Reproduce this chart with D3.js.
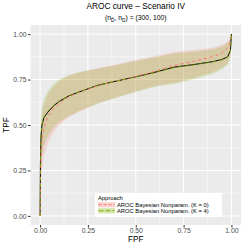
<!DOCTYPE html>
<html>
<head>
<meta charset="utf-8">
<script src="https://cdn.jsdelivr.net/npm/d3@7.9.0/dist/d3.min.js"></script>
<style>
  html, body { margin: 0; padding: 0; background: #fff; }
  svg { display: block; font-family: "Liberation Sans", Arial, sans-serif; }
</style>
</head>
<body>
<div id="chart"></div>
<script>
// FPF grid shared by all curves
const fpf = [0, 0.002, 0.005, 0.01, 0.02, 0.04, 0.07, 0.1, 0.15, 0.2, 0.3, 0.4, 0.5, 0.6, 0.7, 0.8, 0.9, 0.95, 0.98, 0.995, 1];

// true AROC curve (solid black)
const trueTpf = [0, 0.30, 0.44, 0.50, 0.54, 0.57, 0.605, 0.63, 0.66, 0.68, 0.718, 0.742, 0.765, 0.79, 0.818, 0.832, 0.848, 0.86, 0.875, 0.91, 1];

// K = 0 estimate and band
const k0Est = [0, 0.20, 0.33, 0.42, 0.49, 0.545, 0.59, 0.62, 0.655, 0.678, 0.716, 0.742, 0.767, 0.795, 0.827, 0.85, 0.875, 0.895, 0.925, 0.955, 1];
const k0Low = [0, 0.08, 0.18, 0.26, 0.33, 0.40, 0.46, 0.50, 0.542, 0.57, 0.618, 0.652, 0.686, 0.715, 0.733, 0.758, 0.79, 0.815, 0.84, 0.88, 1];
const k0Upp = [0, 0.38, 0.48, 0.55, 0.61, 0.665, 0.71, 0.742, 0.77, 0.787, 0.812, 0.834, 0.858, 0.88, 0.902, 0.912, 0.925, 0.94, 0.96, 0.98, 1];

// K = 4 estimate and band
const k4Est = [0, 0.31, 0.45, 0.505, 0.545, 0.575, 0.607, 0.632, 0.661, 0.681, 0.718, 0.742, 0.765, 0.789, 0.816, 0.83, 0.846, 0.858, 0.872, 0.905, 1];
const k4Low = [0, 0.12, 0.25, 0.33, 0.39, 0.44, 0.485, 0.515, 0.55, 0.575, 0.618, 0.65, 0.682, 0.71, 0.725, 0.75, 0.78, 0.805, 0.83, 0.87, 1];
const k4Upp = [0, 0.45, 0.55, 0.60, 0.645, 0.685, 0.725, 0.752, 0.775, 0.79, 0.81, 0.83, 0.852, 0.872, 0.893, 0.903, 0.915, 0.93, 0.95, 0.975, 1];

const ticks = [0, 0.25, 0.5, 0.75, 1];
const approaches = ['AROC Bayesian Nonparam. (K = 0)', 'AROC Bayesian Nonparam. (K = 4)'];
const colours = ['#F8766D', '#7CAE00'];

const width = 245, height = 245;
const panel = { left: 30.5, right: 241, top: 25, bottom: 225 };

const svg = d3.select('#chart').append('svg')
  .attr('width', width).attr('height', height);

const x = d3.scaleLinear().domain([-0.05, 1.05]).range([panel.left, panel.right]);
const y = d3.scaleLinear().domain([-0.05, 1.05]).range([panel.bottom, panel.top]);

// panel background + grid
svg.append('rect')
  .attr('x', panel.left).attr('y', panel.top)
  .attr('width', panel.right - panel.left).attr('height', panel.bottom - panel.top)
  .attr('fill', '#EBEBEB');

const minor = [0.125, 0.375, 0.625, 0.875];
const grid = svg.append('g');
grid.selectAll('.vmin').data(minor).join('line')
  .attr('x1', d => x(d)).attr('x2', d => x(d))
  .attr('y1', panel.top).attr('y2', panel.bottom)
  .attr('stroke', '#fff').attr('stroke-width', 0.5);
grid.selectAll('.hmin').data(minor).join('line')
  .attr('y1', d => y(d)).attr('y2', d => y(d))
  .attr('x1', panel.left).attr('x2', panel.right)
  .attr('stroke', '#fff').attr('stroke-width', 0.5);
grid.selectAll('.vmaj').data(ticks).join('line')
  .attr('x1', d => x(d)).attr('x2', d => x(d))
  .attr('y1', panel.top).attr('y2', panel.bottom)
  .attr('stroke', '#fff').attr('stroke-width', 1);
grid.selectAll('.hmaj').data(ticks).join('line')
  .attr('y1', d => y(d)).attr('y2', d => y(d))
  .attr('x1', panel.left).attr('x2', panel.right)
  .attr('stroke', '#fff').attr('stroke-width', 1);

// ribbons
const band = (lo, hi) => d3.area()
  .x((d, i) => x(fpf[i]))
  .y0((d, i) => y(lo[i]))
  .y1((d, i) => y(hi[i]));

svg.append('path').datum(fpf).attr('d', band(k0Low, k0Upp))
  .attr('fill', colours[0]).attr('fill-opacity', 0.21);
svg.append('path').datum(fpf).attr('d', band(k4Low, k4Upp))
  .attr('fill', colours[1]).attr('fill-opacity', 0.21);

const line = vals => d3.line().x((d, i) => x(fpf[i])).y((d, i) => y(vals[i]));

svg.append('path').datum(fpf).attr('d', line(trueTpf))
  .attr('fill', 'none').attr('stroke', '#000').attr('stroke-width', 1);
svg.append('path').datum(fpf).attr('d', line(k0Est))
  .attr('fill', 'none').attr('stroke', colours[0]).attr('stroke-width', 1)
  .attr('stroke-dasharray', '3,3');
svg.append('path').datum(fpf).attr('d', line(k4Est))
  .attr('fill', 'none').attr('stroke', colours[1]).attr('stroke-width', 0.8)
  .attr('stroke-dasharray', '4,3');

// axes
const fmt = d3.format('.2f');
const xAxis = svg.append('g')
  .attr('transform', `translate(0,${panel.bottom})`)
  .call(d3.axisBottom(x).tickValues(ticks).tickFormat(fmt).tickSize(2.5).tickPadding(1));
const yAxis = svg.append('g')
  .attr('transform', `translate(${panel.left},0)`)
  .call(d3.axisLeft(y).tickValues(ticks).tickFormat(fmt).tickSize(2.5).tickPadding(1.5));
[xAxis, yAxis].forEach(a => {
  a.select('.domain').remove();
  a.selectAll('line').attr('stroke', '#333');
  a.selectAll('text').attr('fill', '#4D4D4D').style('font-size', '6.8px')
    .style('font-family', '"Liberation Sans", Arial, sans-serif');
});

// axis titles
const cx = (panel.left + panel.right) / 2;
svg.append('text').attr('x', cx).attr('y', 242)
  .attr('text-anchor', 'middle').style('font-size', '8.2px').text('FPF');
svg.append('text')
  .attr('transform', `translate(8.5,${(panel.top + panel.bottom) / 2}) rotate(-90)`)
  .attr('text-anchor', 'middle').style('font-size', '8.2px').text('TPF');

// title
svg.append('text').attr('x', cx).attr('y', 9)
  .attr('text-anchor', 'middle').style('font-size', '8.3px').text('AROC curve – Scenario IV');
const sub = svg.append('text').attr('x', cx).attr('y', 20)
  .attr('text-anchor', 'middle').style('font-size', '6.8px');
sub.append('tspan').text('(n');
sub.append('tspan').attr('dy', 1.5).style('font-size', '4.8px').text('D\u0304');
sub.append('tspan').attr('dy', -1.5).text(', n');
sub.append('tspan').attr('dy', 1.5).style('font-size', '4.8px').text('D');
sub.append('tspan').attr('dy', -1.5).text(') = (300, 100)');

// legend
const lg = svg.append('g').attr('transform', 'translate(95,193)');
lg.append('rect').attr('width', 127).attr('height', 24).attr('fill', '#fff');
lg.append('text').attr('x', 3).attr('y', 6.5).style('font-size', '5.8px').text('Approach');
const items = lg.selectAll('.item').data(approaches).join('g')
  .attr('transform', (d, i) => `translate(3,${9 + i * 6})`);
items.append('rect').attr('width', 17).attr('height', 5.5)
  .attr('fill', (d, i) => colours[i]).attr('fill-opacity', 0.3);
items.append('line').attr('x1', 0.5).attr('x2', 16.5).attr('y1', 2.75).attr('y2', 2.75)
  .attr('stroke', (d, i) => colours[i]).attr('stroke-width', 1)
  .attr('stroke-dasharray', (d, i) => i === 0 ? '3,2' : '5,2');
items.append('text').attr('x', 19).attr('y', 4.8)
  .style('font-size', '5.8px').text(d => d);
</script>
</body>
</html>
